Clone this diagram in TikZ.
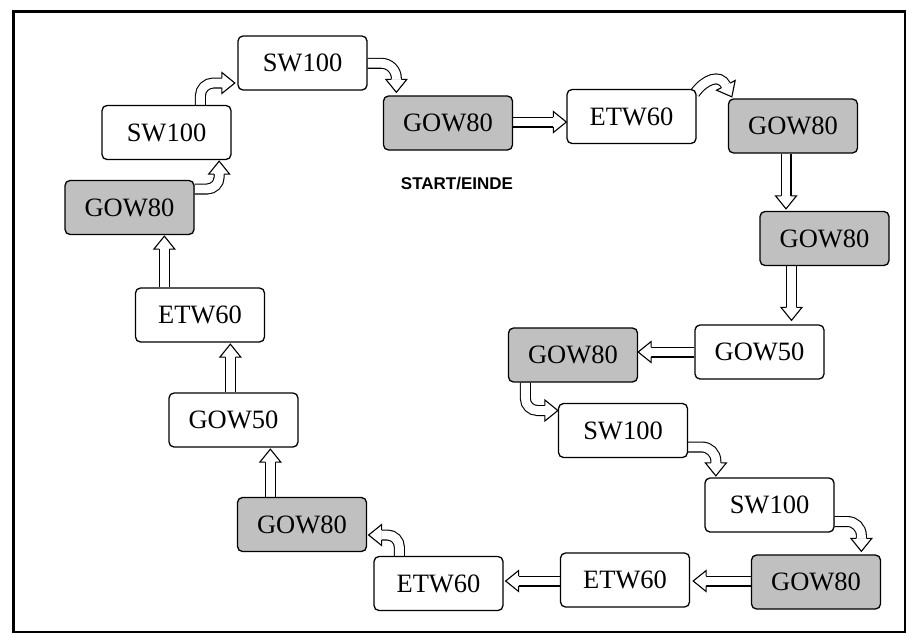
\documentclass[tikz,border=0pt]{standalone}
\usepackage{fontspec}
\setmainfont{Liberation Serif}
\newfontfamily\labelsans{Liberation Sans}
\usetikzlibrary{calc}
\pgfdeclarelayer{arrows}
\pgfsetlayers{arrows,main}
\definecolor{boxgray}{RGB}{192,192,192}

\tikzset{
  stage/.style={draw, line width=1.3pt, rounded corners=5pt,
    minimum width=129pt, minimum height=54pt, inner sep=0pt, fill=white,
    font=\fontsize{26.5}{30}\selectfont},
  grey stage/.style={stage, fill=boxgray},
  shaft/.style={draw=black, line width=1.1pt, double=white, double distance=8.8pt},
  headline/.style={line width=1.1pt, line join=miter},
  caption/.style={font=\labelsans\bfseries\fontsize{17}{20}\selectfont, inner sep=0pt},
}

% hollow arrow head: base point, tip point
\newcommand\blockhead[2]{%
  \fill[white] ($(#1)!10.5pt!90:(#2)$) -- (#2) -- ($(#1)!10.5pt!-90:(#2)$) -- cycle;
  \draw[headline] ($(#1)!4.95pt!90:(#2)$) -- ($(#1)!10.5pt!90:(#2)$) -- (#2)
    -- ($(#1)!10.5pt!-90:(#2)$) -- ($(#1)!4.95pt!-90:(#2)$);}
% straight block arrow: start, tip
\newcommand\straightblock[2]{%
  \coordinate (sbbase) at ($(#2)!13pt!(#1)$);
  \draw[shaft] (#1) -- (sbbase);
  \blockhead{sbbase}{#2}}
% bent block arrow: start, corner, tip, corner radius
\newcommand\bentblock[4]{%
  \coordinate (bbbase) at ($(#3)!13pt!(#2)$);
  \draw[shaft, rounded corners=#4] (#1) -- (#2) -- (bbbase);
  \blockhead{bbbase}{#3}}

\begin{document}
\begin{tikzpicture}[x=1pt, y=-1pt]
\useasboundingbox (0,0) rectangle (917,643);
\draw[line width=2.8pt] (13.4,11.2) rectangle (905,632);

% stages of the route
\node[stage]      (sw1) at (302.5,63)  {SW100};
\node[stage]      (sw2) at (166.5,132.5) {SW100};
\node[grey stage] (g1)  at (129.5,207.5) {GOW80};
\node[stage]      (e1)  at (200,315)   {ETW60};
\node[stage]      (o1)  at (233.5,420) {GOW50};
\node[grey stage] (g2)  at (302,524.5) {GOW80};
\node[stage]      (e2)  at (438.5,583.5) {ETW60};
\node[stage]      (e3)  at (625,580)   {ETW60};
\node[grey stage] (g3)  at (816,582)   {GOW80};
\node[stage]      (sw3) at (769.5,505) {SW100};
\node[stage]      (sw4) at (623,430.5) {SW100};
\node[grey stage] (g4)  at (573,355)   {GOW80};
\node[stage]      (o2)  at (759.5,352) {GOW50};
\node[grey stage] (g5)  at (824.5,238.5) {GOW80};
\node[grey stage] (g6)  at (793,126)   {GOW80};
\node[stage]      (e4)  at (631.5,116.5) {ETW60};
\node[grey stage] (g7)  at (448,123)   {GOW80};

\node[caption] (start) at (457,183.5) {START/EINDE};

\begin{pgfonlayer}{arrows}
% GOW80 -> ETW60 (top)
\coordinate (a1s) at ($(g7.east)+(0,-1)$);
\coordinate (a1t) at (a1s -| e4.west);
\straightblock{a1s}{a1t}
% ETW60 -> GOW80 (arched)
\coordinate (a2s) at ($(e4.north east)+(-2,4.5)$);
\coordinate (a2t) at ($(g6.north west)+(4,-1.5)$);
\coordinate (a2b) at ($(g6.north west)+(-2,-13)$);
\draw[shaft] (a2s) .. controls ($(a2s)+(10,-14)$) and ($(a2b)+(-6,-12)$) .. (a2b);
\blockhead{a2b}{a2t}
% right column, downwards
\coordinate (a3s) at ($(g6.south)+(-7,0)$);
\coordinate (a3t) at ($(a3s |- g5.north)+(0,-2)$);
\straightblock{a3s}{a3t}
\coordinate (a4s) at ($(g5.south)+(-33,0)$);
\coordinate (a4t) at ($(a4s |- o2.north)+(0,-4)$);
\straightblock{a4s}{a4t}
% GOW50 -> GOW80
\coordinate (a5s) at (o2.west);
\coordinate (a5t) at (a5s -| g4.east);
\straightblock{a5s}{a5t}
% GOW80 -> SW100 -> SW100 -> GOW80
\coordinate (a6s) at ($(g4.south west)+(17.5,0)$);
\coordinate (a6t) at ($(sw4.west)+(0,-20)$);
\bentblock{a6s}{a6s |- a6t}{a6t}{12pt}
\coordinate (a7s) at ($(sw4.east)+(0,16.5)$);
\coordinate (a7t) at ($(sw3.north west)+(11.5,-1.5)$);
\bentblock{a7s}{a7t |- a7s}{a7t}{14pt}
\coordinate (a8s) at ($(sw3.east)+(0,16.5)$);
\coordinate (a8t) at ($(g3.north west)+(110.5,-3)$);
\bentblock{a8s}{a8t |- a8s}{a8t}{14pt}
% bottom row, leftwards
\coordinate (a9s) at ($(g3.west)+(0,-1)$);
\coordinate (a9t) at ($(a9s -| e3.east)+(3,0)$);
\straightblock{a9s}{a9t}
\coordinate (a10s) at ($(e3.west)+(0,1)$);
\coordinate (a10t) at ($(a10s -| e2.east)+(2,0)$);
\straightblock{a10s}{a10t}
% ETW60 -> GOW80
\coordinate (a11s) at ($(e2.north west)+(26,0)$);
\coordinate (a11t) at ($(g2.east)+(1.5,10.5)$);
\bentblock{a11s}{a11s |- a11t}{a11t}{12pt}
% left column, upwards
\coordinate (a12s) at ($(g2.north west)+(33.5,0)$);
\coordinate (a12t) at ($(a12s |- o1.south)+(0,1.5)$);
\straightblock{a12s}{a12t}
\coordinate (a13s) at ($(o1.north west)+(62,0)$);
\coordinate (a13t) at ($(a13s |- e1.south)+(0,1.5)$);
\straightblock{a13s}{a13t}
\coordinate (a14s) at ($(e1.north west)+(29.5,0)$);
\coordinate (a14t) at ($(a14s |- g1.south)+(0,1)$);
\straightblock{a14s}{a14t}
% GOW80 -> SW100 -> SW100 -> GOW80
\coordinate (a15s) at ($(g1.east)+(0,-18.5)$);
\coordinate (a15t) at ($(sw2.south east)+(-12.5,1)$);
\bentblock{a15s}{a15t |- a15s}{a15t}{12pt}
\coordinate (a16s) at ($(sw2.north west)+(99,0)$);
\coordinate (a16t) at ($(sw1.west)+(-2.5,20)$);
\bentblock{a16s}{a16s |- a16t}{a16t}{13pt}
\coordinate (a17s) at ($(sw1.east)+(0,0.3)$);
\coordinate (a17t) at ($(g7.north west)+(13.5,-3)$);
\bentblock{a17s}{a17t |- a17s}{a17t}{15pt}
\end{pgfonlayer}
\end{tikzpicture}
\end{document}
